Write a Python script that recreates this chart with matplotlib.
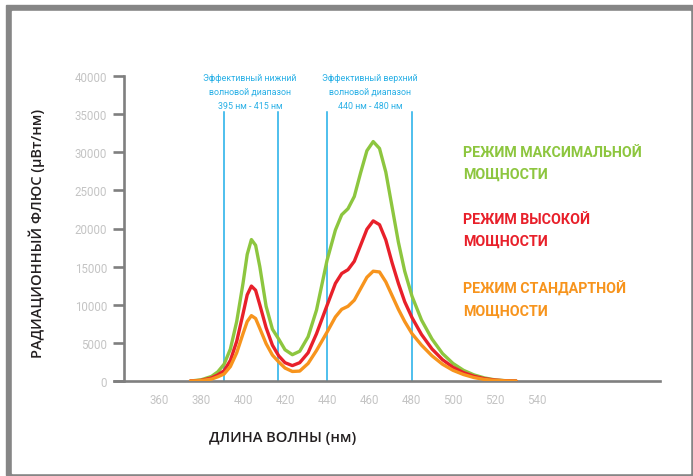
import matplotlib
matplotlib.use("Agg")
import matplotlib.pyplot as plt
from matplotlib.patches import Rectangle

# Wavelengths (nm) and radiant flux (uW/nm)
wavelength = [375, 380, 385, 388, 391, 394, 397, 400, 402, 404, 406, 408, 411, 414,
              417, 420, 423.5, 427, 431, 435, 440, 444, 447, 450, 453, 456, 459, 462,
              465, 468, 471, 474, 477, 480.5, 485, 490, 495, 500, 505, 510, 515, 520,
              525, 530]
flux_max = [0, 150, 600, 1200, 2200, 4200, 7800, 12800, 16600, 18550, 17800, 15000,
            9800, 6800, 5500, 4100, 3450, 3900, 5800, 9300, 15800, 19800, 21800, 22600,
            24200, 27300, 30200, 31400, 30500, 27400, 22800, 18200, 14400, 11100, 8000,
            5500, 3600, 2300, 1400, 800, 400, 150, 40, 0]
flux_high = [0, 80, 400, 800, 1350, 2700, 5200, 8800, 11300, 12450, 11900, 10000,
             7000, 4700, 3300, 2400, 2020, 2400, 3700, 6200, 9900, 12800, 14100, 14600,
             15700, 17800, 19900, 21000, 20500, 18500, 15500, 12800, 10400, 8300, 6100,
             4200, 2800, 1800, 1100, 620, 300, 120, 30, 0]
flux_std = [0, 50, 250, 550, 920, 1900, 3700, 6200, 7800, 8570, 8200, 6900, 4900,
            3400, 2500, 1700, 1250, 1300, 2300, 4000, 6400, 8400, 9400, 9800, 10600,
            12100, 13600, 14400, 14300, 13000, 11200, 9400, 7800, 6200, 4700, 3300,
            2200, 1400, 850, 450, 200, 80, 20, 0]

band_lines = [391, 416.5, 440, 480.5]
band_texts = ["Эффективный нижний\nволновой диапазон\n395 нм - 415 нм",
              "Эффективный верхний\nволновой диапазон\n440 нм - 480 нм"]
band_text_x = [403.3, 460.5]

series_labels = ["РЕЖИМ МАКСИМАЛЬНОЙ\nМОЩНОСТИ",
                 "РЕЖИМ ВЫСОКОЙ\nМОЩНОСТИ",
                 "РЕЖИМ СТАНДАРТНОЙ\nМОЩНОСТИ"]
colors = ["#8dc63f", "#e8202a", "#f7941d"]

x_ticks = [360, 380, 400, 420, 440, 460, 480, 500, 520, 540]
y_ticks = [0, 5000, 10000, 15000, 20000, 25000, 30000, 35000, 40000]

fig = plt.figure(figsize=(6.93, 4.77), dpi=100)

# grey frame around the picture
fig.patches.append(Rectangle((6 / 693, 1 / 477), 686 / 693, 470 / 477,
                             transform=fig.transFigure, color="#868686", zorder=-2))
fig.patches.append(Rectangle((12 / 693, 3 / 477), 678 / 693, 462 / 477,
                             transform=fig.transFigure, color="white", zorder=-1))

ax = fig.add_axes([114 / 693, 1 - 382 / 477, 546 / 693, 305 / 477])
ax.patch.set_alpha(0)
ax.set_xlim(338.57, 598.57)
ax.set_ylim(0, 40000)

for x in band_lines:
    ax.plot([x, x], [0, 35300], color="#1eaee8", lw=1.1, zorder=1)

for tx, txt in zip(band_text_x, band_texts):
    ax.text(tx, 38000, txt, ha="center", va="center", fontsize=6.4,
            color="#29b0e6", linespacing=1.7, clip_on=False, family="Roboto")

for vals, c in zip([flux_max, flux_high, flux_std], colors):
    ax.plot(wavelength, vals, color=c, lw=2.4, solid_joinstyle="round",
            solid_capstyle="round", zorder=3)

label_y = [1 - 164 / 477, 1 - 231 / 477, 1 - 300 / 477]
for txt, c, yy in zip(series_labels, colors, label_y):
    fig.text(463 / 693, yy, txt, color=c, fontsize=10.3, fontweight="bold",
             family="Roboto", va="center", ha="left", linespacing=1.68)

ax.spines["top"].set_visible(False)
ax.spines["right"].set_visible(False)
ax.spines["left"].set_position(("data", 343.3))
for s in ["left", "bottom"]:
    ax.spines[s].set_color("#7f7f7f")
    ax.spines[s].set_linewidth(1.9)

ax.set_xticks(x_ticks)
ax.set_yticks(y_ticks)
ax.set_yticklabels([str(v) for v in y_ticks])
ax.tick_params(axis="x", length=0, pad=9, labelsize=8.3, labelcolor="#c4c4c4")
ax.tick_params(axis="y", length=8, width=1.9, color="#7f7f7f", pad=4,
               labelsize=8.3, labelcolor="#c4c4c4")
for lab in ax.get_xticklabels() + ax.get_yticklabels():
    lab.set_family("Roboto")

fig.text(283 / 693, 1 - 438 / 477, "ДЛИНА ВОЛНЫ (нм)", ha="center", va="center",
         fontsize=10.5, fontweight="semibold", family="Open Sans", color="#231f20")
fig.text(37 / 693, 1 - 233 / 477, "РАДИАЦИОННЫЙ ФЛЮС (μВт/нм)", ha="center",
         va="center", rotation=90, fontsize=10.5, fontweight="semibold",
         family="Open Sans", color="#231f20")

fig.savefig("out.png", dpi=100)
